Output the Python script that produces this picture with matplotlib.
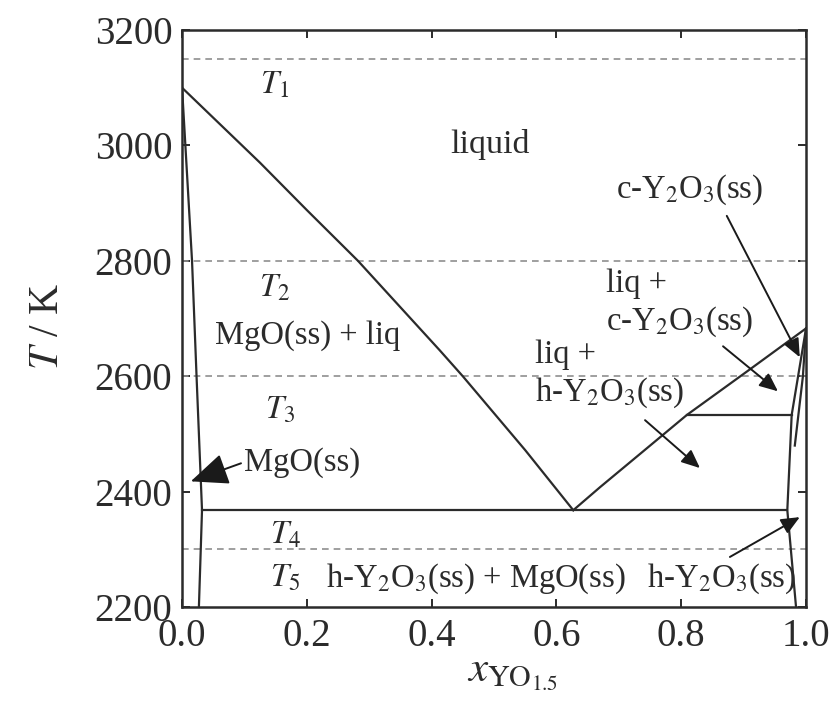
import matplotlib
matplotlib.use("Agg")
import matplotlib.pyplot as plt

# ---------------------------------------------------------------------------
# Phase boundaries of the MgO - YO1.5 system (x = mole fraction YO1.5, T in K)
# ---------------------------------------------------------------------------
liq_mgo_x = [0.0, 0.125, 0.200, 0.282, 0.413, 0.450, 0.550, 0.627]
liq_mgo_T = [3100, 2970, 2888, 2800, 2645, 2600, 2472, 2368]

sol_mgo_x = [0.0, 0.016, 0.0235, 0.032, 0.027]
sol_mgo_T = [3100, 2800, 2593, 2368, 2200]

liq_y2o3_x = [0.627, 0.670, 0.739, 0.809, 0.910, 1.0]
liq_y2o3_T = [2368, 2408, 2470, 2533, 2612, 2683]

sol_y2o3_x = [1.0, 0.977, 0.970, 0.984]
sol_y2o3_T = [2683, 2533, 2368, 2200]

ch_bound_x = [1.0, 0.995, 0.982]
ch_bound_T = [2683, 2600, 2480]

eutectic_T = 2368
eutectic_x = [0.032, 0.970]
transition_T = 2533
transition_x = [0.809, 0.977]

# temperatures of the isothermal sections
section_T = [3150, 2800, 2600, 2300]

XTICKS = [0.0, 0.2, 0.4, 0.6, 0.8, 1.0]
YTICKS = [2200, 2400, 2600, 2800, 3000, 3200]

plt.rcParams["font.family"] = ["Liberation Serif", "DejaVu Serif"]
plt.rcParams["mathtext.fontset"] = "stix"

fig = plt.figure(figsize=(8.37, 7.06), dpi=100)
ax = fig.add_axes([0.2175, 0.140, 0.7455, 0.8175])

line_kw = dict(color="#2b2b2b", lw=1.6)

for T in section_T:
    ax.axhline(T, color="#8f8f8f", lw=1.2, ls=(0, (4, 3)))

ax.plot(liq_mgo_x, liq_mgo_T, **line_kw)
ax.plot(sol_mgo_x, sol_mgo_T, **line_kw)
ax.plot(liq_y2o3_x, liq_y2o3_T, **line_kw)
ax.plot(sol_y2o3_x, sol_y2o3_T, **line_kw)
ax.plot(ch_bound_x, ch_bound_T, **line_kw)
ax.plot(eutectic_x, [eutectic_T] * 2, **line_kw)
ax.plot(transition_x, [transition_T] * 2, **line_kw)

ax.set_xlim(0, 1)
ax.set_ylim(2200, 3200)
ax.set_xticks(XTICKS)
ax.set_xticklabels([f"{v:.1f}" for v in XTICKS])
ax.set_yticks(YTICKS)
ax.tick_params(direction="in", top=True, right=True, length=6, width=1.4,
               labelsize=28, pad=7, colors="#2b2b2b")
ax.tick_params(axis="x", pad=8)
for s in ax.spines.values():
    s.set_linewidth(1.8)
    s.set_color("#2b2b2b")

ax.set_xlabel(r"$x_{\mathrm{YO}_{1.5}}$", fontsize=31, color="#2b2b2b")
ax.xaxis.set_label_coords(0.53, -0.082)
ax.set_ylabel(r"$T$ / K", fontsize=30, color="#2b2b2b")
ax.yaxis.set_label_coords(-0.185, 0.487)

fs = 23.5
tc = "#2b2b2b"
ax.text(0.149, 3105, r"$T_1$", fontsize=fs, ha="center", va="center", color=tc)
ax.text(0.149, 2753, r"$T_2$", fontsize=fs, ha="center", va="center", color=tc)
ax.text(0.157, 2541, r"$T_3$", fontsize=fs, ha="center", va="center", color=tc)
ax.text(0.165, 2325, r"$T_4$", fontsize=fs, ha="center", va="center", color=tc)
ax.text(0.165, 2250, r"$T_5$", fontsize=fs, ha="center", va="center", color=tc)

ax.text(0.494, 3001, "liquid", fontsize=fs + 1, ha="center", va="center", color=tc)
ax.text(0.202, 2671, "MgO(ss) + liq", fontsize=fs, ha="center", va="center", color=tc)
ax.text(0.471, 2250, r"h-Y$_2$O$_3$(ss) + MgO(ss)", fontsize=fs, ha="center", va="center", color=tc)

ax.text(0.679, 2761, "liq +", fontsize=fs, ha="left", va="center", color=tc)
ax.text(0.566, 2637, "liq +", fontsize=fs, ha="left", va="center", color=tc)

# labels with pointer arrows
arrow_kw = dict(color="#1a1a1a", lw=1.4, shrinkA=0, shrinkB=0)
small_head = "-|>,head_length=0.8,head_width=0.35"
ax.annotate("MgO(ss)", xy=(0.014, 2418), xytext=(0.192, 2451),
            fontsize=fs, ha="center", va="center", color=tc,
            arrowprops=dict(arrowstyle="-|>,head_length=1.3,head_width=0.55",
                            mutation_scale=18, relpos=(0.0, 0.5), **arrow_kw))
ax.text(0.814, 2923, r"c-Y$_2$O$_3$(ss)", fontsize=fs, ha="center", va="center", color=tc)
ax.annotate("", xy=(0.990, 2633), xytext=(0.873, 2878),
            arrowprops=dict(arrowstyle=small_head, mutation_scale=14, **arrow_kw))
ax.text(0.679, 2694, r"c-Y$_2$O$_3$(ss)", fontsize=fs, ha="left", va="center", color=tc)
ax.annotate("", xy=(0.955, 2574), xytext=(0.867, 2652),
            arrowprops=dict(arrowstyle=small_head, mutation_scale=14, **arrow_kw))
ax.text(0.566, 2571, r"h-Y$_2$O$_3$(ss)", fontsize=fs, ha="left", va="center", color=tc)
ax.annotate("", xy=(0.830, 2441), xytext=(0.742, 2524),
            arrowprops=dict(arrowstyle=small_head, mutation_scale=14, **arrow_kw))
ax.text(0.865, 2250, r"h-Y$_2$O$_3$(ss)", fontsize=fs, ha="center", va="center", color=tc)
ax.annotate("", xy=(0.990, 2356), xytext=(0.878, 2287),
            arrowprops=dict(arrowstyle=small_head, mutation_scale=14, **arrow_kw))

fig.savefig("out.png", dpi=100)
